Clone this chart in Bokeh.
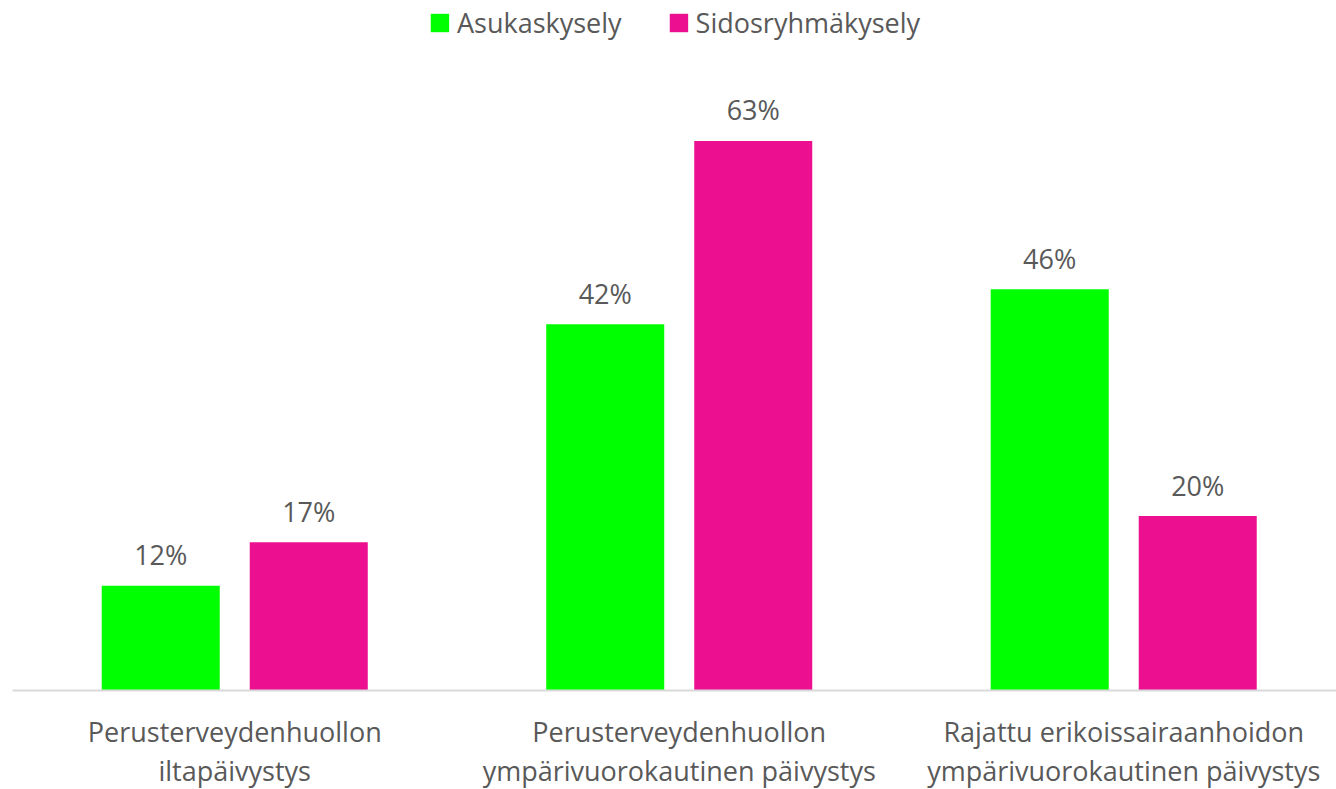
from bokeh.plotting import figure
from bokeh.models import ColumnDataSource, Range1d, FixedTicker, Legend, LegendItem, LabelSet
from bokeh.core.properties import value
from bokeh.embed import file_html
from bokeh.resources import INLINE

categories = ["Perusterveydenhuollon\niltapäivystys",
              "Perusterveydenhuollon\nympärivuorokautinen päivystys",
              "Rajattu erikoissairaanhoidon\nympärivuorokautinen päivystys"]
series_names = ["Asukaskysely", "Sidosryhmäkysely"]
asukas = [12, 42, 46]
sidos = [17, 63, 20]
colors = ["#00FF00", "#EC0F8F"]

FONT = "Open Sans"
TXT = "#595959"
FS = "27px"

p = figure(frame_width=1324, frame_height=690, output_backend="svg", toolbar_location=None,
           x_range=Range1d(-0.5, 2.4787), y_range=Range1d(0, 79.1),
           min_border_left=12, min_border_right=0, min_border_top=0, min_border_bottom=0)
p.outline_line_color = None
p.grid.visible = False
p.yaxis.visible = False
p.background_fill_color = "white"
p.border_fill_color = "white"

idx = list(range(len(categories)))
offs = [-0.1665, 0.1665]
renderers = []
for vals, off, col in zip([asukas, sidos], offs, colors):
    src = ColumnDataSource(dict(x=[i + off for i in idx], top=vals,
                                lab=[f"{v}%" for v in vals]))
    r = p.vbar(x="x", top="top", width=0.2655, source=src, fill_color=col, line_color=None)
    renderers.append(r)
    p.add_layout(LabelSet(x="x", y="top", text="lab", source=src, y_offset=31,
                          text_align="center", text_baseline="middle",
                          text_font=value(FONT), text_font_size=FS, text_color=TXT))

xa = p.xaxis[0]
xa.ticker = FixedTicker(ticks=idx)
xa.major_label_overrides = {i: c for i, c in zip(idx, categories)}
xa.major_tick_line_color = None
xa.minor_tick_line_color = None
xa.axis_line_color = "#D9D9D9"
xa.axis_line_width = 2
xa.major_label_text_font = FONT
xa.major_label_text_font_size = FS
xa.major_label_text_color = TXT
xa.major_label_text_line_height = 1.07
xa.major_label_standoff = 16

legend = Legend(items=[LegendItem(label=n, renderers=[r]) for n, r in zip(series_names, renderers)],
                orientation="horizontal", location="top_center",
                label_text_font=FONT, label_text_font_size=FS, label_text_color=TXT,
                glyph_width=23, glyph_height=23, spacing=45, label_standoff=6,
                border_line_color=None, background_fill_alpha=0, padding=0, margin=4)
p.add_layout(legend)

open("out.html", "w").write(file_html(p, INLINE))
